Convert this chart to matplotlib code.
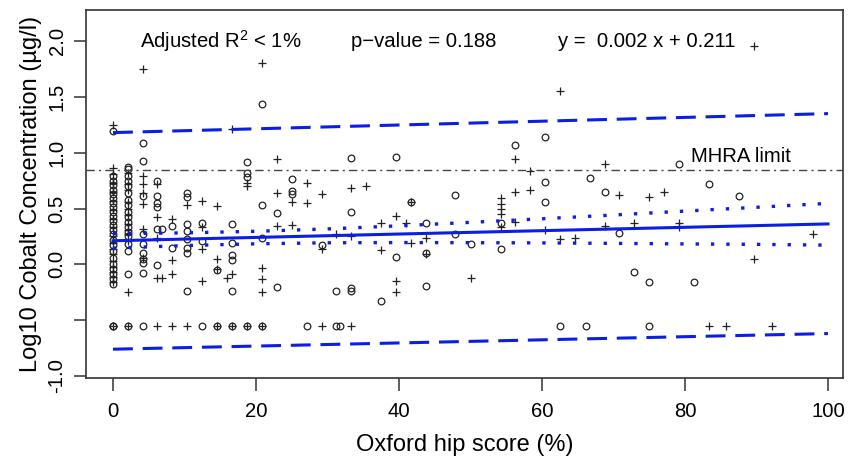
import matplotlib.pyplot as plt

plt.rcParams['font.family'] = ['Liberation Sans', 'DejaVu Sans']

# Oxford hip score (%) vs log10 cobalt; 'o' and '+' are the two groups
circle_x = ([0] * 26 + [2.1] * 18 + [4.2] * 10 + [6.2] * 6 + [6.9] + [8.3] * 2
            + [10.4] * 8 + [12.5] * 3 + [14.6] * 2 + [16.7] * 6 + [18.8] * 4
            + [20.8] * 4 + [22.9] * 2 + [25] * 3 + [27.1] + [29.2] + [31.2] * 2
            + [31.8] + [33.3] * 4 + [37.5] + [39.6] * 2 + [41.7] + [43.8] * 3
            + [47.9] * 2 + [50] + [54.2] * 2 + [56.2] + [60.4] * 3 + [62.5]
            + [66.2] + [66.7] + [68.8] + [70.8] + [72.9] + [75] * 2 + [79.2]
            + [81.2] + [83.3] + [87.5])
circle_y = [1.19, 0.79, 0.75, 0.71, 0.67, 0.63, 0.59, 0.55, 0.51, 0.47, 0.43, 0.39, 0.35,
            0.31, 0.27, 0.22, 0.17, 0.12, 0.06, 0.00, -0.04, -0.09, -0.13, -0.18, -0.55, -0.55,
            0.87, 0.85, 0.79, 0.75, 0.70, 0.64, 0.58, 0.53, 0.47, 0.42, 0.38, 0.33, 0.29,
            0.25, 0.18, 0.12, -0.09, -0.55,
            1.09, 0.93, 0.61, 0.27, 0.18, 0.10, 0.05, 0.01, -0.08, -0.55,
            0.75, 0.61, 0.55, 0.51, 0.32, -0.01, 0.32,
            0.34, 0.15,
            0.64, 0.60, 0.36, 0.30, 0.23, 0.15, 0.10, -0.24,
            0.37, 0.21, -0.55,
            -0.05, -0.55,
            0.36, 0.19, 0.08, 0.04, -0.24, -0.55,
            0.92, 0.82, 0.78, -0.55,
            1.44, 0.53, 0.24, -0.55,
            0.46, -0.20,
            0.76, 0.66, 0.63,
            -0.55, 0.17, -0.24, -0.55, -0.55,
            0.95, 0.47, -0.21, -0.24,
            -0.33, 0.96, 0.07, 0.56, 0.37, 0.10, -0.19,
            0.62, 0.27, 0.18, 0.37, 0.14, 1.07, 1.14, 0.74, 0.56, -0.55,
            -0.55, 0.77, 0.65, 0.28, -0.07, -0.16, -0.55, 0.90,
            -0.16, 0.72, 0.61]

plus_x = ([0] * 19 + [2.1] * 12 + [4.2] * 7 + [6.2] * 5 + [6.9] + [8.3] * 4
          + [10.4] * 2 + [12.5] * 4 + [14.6] * 4 + [15.9] + [16.7] * 3 + [18.8] * 3
          + [20.8] * 5 + [22.9] * 3 + [25] * 2 + [27.1] * 2 + [29.2] * 3 + [31.2]
          + [33.3] * 3 + [35.4] + [37.5] * 2 + [39.6] * 3 + [41.0] + [41.7] * 2
          + [43.8] * 2 + [50] + [54.2] * 5 + [56.2] * 3 + [58.3] * 2 + [60.4]
          + [62.5] * 2 + [64.6] + [68.8] * 2 + [70.8] + [72.9] + [75] + [77.1]
          + [79.2] * 2 + [83.3] + [85.7] + [89.6] * 2 + [92.2] + [97.9])
plus_y = [1.25, 0.86, 0.81, 0.73, 0.65, 0.57, 0.49, 0.41, 0.33, 0.25, 0.19, 0.14, 0.09,
          0.03, -0.02, -0.07, -0.11, -0.16, -0.55,
          0.82, 0.72, 0.67, 0.56, 0.50, 0.44, 0.36, 0.31, 0.27, 0.21, -0.25, -0.55,
          1.75, 0.79, 0.72, 0.64, 0.54, 0.32, 0.06,
          0.72, 0.42, 0.24, -0.12, -0.55, -0.12,
          0.41, 0.04, -0.09, -0.55,
          0.53, -0.55,
          0.57, 0.33, 0.14, -0.15,
          0.52, 0.05, -0.04, -0.55, -0.12,
          1.21, -0.09, -0.55,
          0.73, 0.70, -0.55,
          1.80, -0.03, -0.13, -0.25, -0.55,
          0.94, 0.64, 0.34,
          0.56, 0.35,
          0.73, 0.55,
          0.63, 0.14, -0.55,
          0.27,
          0.68, 0.25, -0.55,
          0.70, 0.37, 0.13,
          0.43, -0.15, -0.25, 0.37, 0.56, 0.19, 0.24, 0.09,
          -0.12, 0.59, 0.54, 0.50, 0.45, 0.33, 0.94, 0.65, 0.38, 0.84, 0.67, 0.31,
          1.55, 0.23, 0.24, 0.90, 0.34, 0.62, 0.37, 0.60, 0.65, 0.37, 0.33,
          -0.55, -0.55, 1.96, 0.05, -0.55, 0.27]

# fitted line, prediction interval (dashed) and confidence band (dotted)
fit_x = [0, 100]
fit_y = [0.211, 0.362]
pi_x = [0, 100]
pi_upper = [1.18, 1.35]
pi_lower = [-0.76, -0.62]
ci_x = [0, 10, 20, 30, 40, 50, 60, 70, 80, 90, 100]
ci_upper = [0.275, 0.282, 0.296, 0.317, 0.345, 0.376, 0.408, 0.442, 0.477, 0.511, 0.546]
ci_lower = [0.145, 0.168, 0.184, 0.193, 0.195, 0.194, 0.192, 0.188, 0.183, 0.179, 0.172]
mhra_limit = 0.845

x_ticks = [0, 20, 40, 60, 80, 100]
y_ticks = [-1.0, -0.5, 0.0, 0.5, 1.0, 1.5, 2.0]
y_ticklabels = ['-1.0', '', '0.0', '0.5', '1.0', '1.5', '2.0']

fig = plt.figure(figsize=(8.48, 4.57), dpi=100)
ax = fig.add_axes([86 / 848, 1 - 378 / 457, (843 - 86) / 848, (378 - 10) / 457])

ax.plot(circle_x, circle_y, 'o', ms=4.8, mfc='none', mec='#222222', mew=0.9)
ax.plot(plus_x, plus_y, '+', ms=6, mec='#222222', mew=0.9)

blue = '#0a1ee6'
ax.plot(fit_x, fit_y, color=blue, lw=2.2)
ax.plot(pi_x, pi_upper, color=blue, lw=2.2, linestyle=(0, (6.5, 3.2)))
ax.plot(pi_x, pi_lower, color=blue, lw=2.2, linestyle=(0, (6.5, 3.2)))
ax.plot(ci_x, ci_upper, color=blue, lw=2.4, linestyle=(0, (1, 3.6)))
ax.plot(ci_x, ci_lower, color=blue, lw=2.4, linestyle=(0, (1, 3.6)))
ax.axhline(mhra_limit, color='#444444', lw=1.0, linestyle=(0, (6, 3, 1.5, 3)))

fs = 14.6
ax.text(15.0, 2.0, r'Adjusted $\mathregular{R^2}$ < 1%', fontsize=fs, ha='center', va='center')
ax.text(43.5, 2.0, 'p\u2212value = 0.188', fontsize=fs, ha='center', va='center')
ax.text(74.7, 2.0, 'y =  0.002 x + 0.211', fontsize=fs, ha='center', va='center')
ax.text(87.8, 0.97, 'MHRA limit', fontsize=fs, ha='center', va='center')

ax.set_xlim(-3.78, 102.1)
ax.set_ylim(-1.018, 2.278)
ax.set_xticks(x_ticks)
ax.set_yticks(y_ticks)
ax.set_yticklabels(y_ticklabels, rotation=90, va='center')
ax.tick_params(length=9, width=1.1, labelsize=fs, color='#333333', pad=5)
ax.tick_params(axis='x', pad=8)

for s in ax.spines.values():
    s.set_linewidth(1.2)
    s.set_color('#333333')

ax.set_xlabel('Oxford hip score (%)', fontsize=17, labelpad=10)
ax.set_ylabel('Log10 Cobalt Concentration (\u00b5g/l)', fontsize=17)

fig.savefig('out.png', dpi=100)
